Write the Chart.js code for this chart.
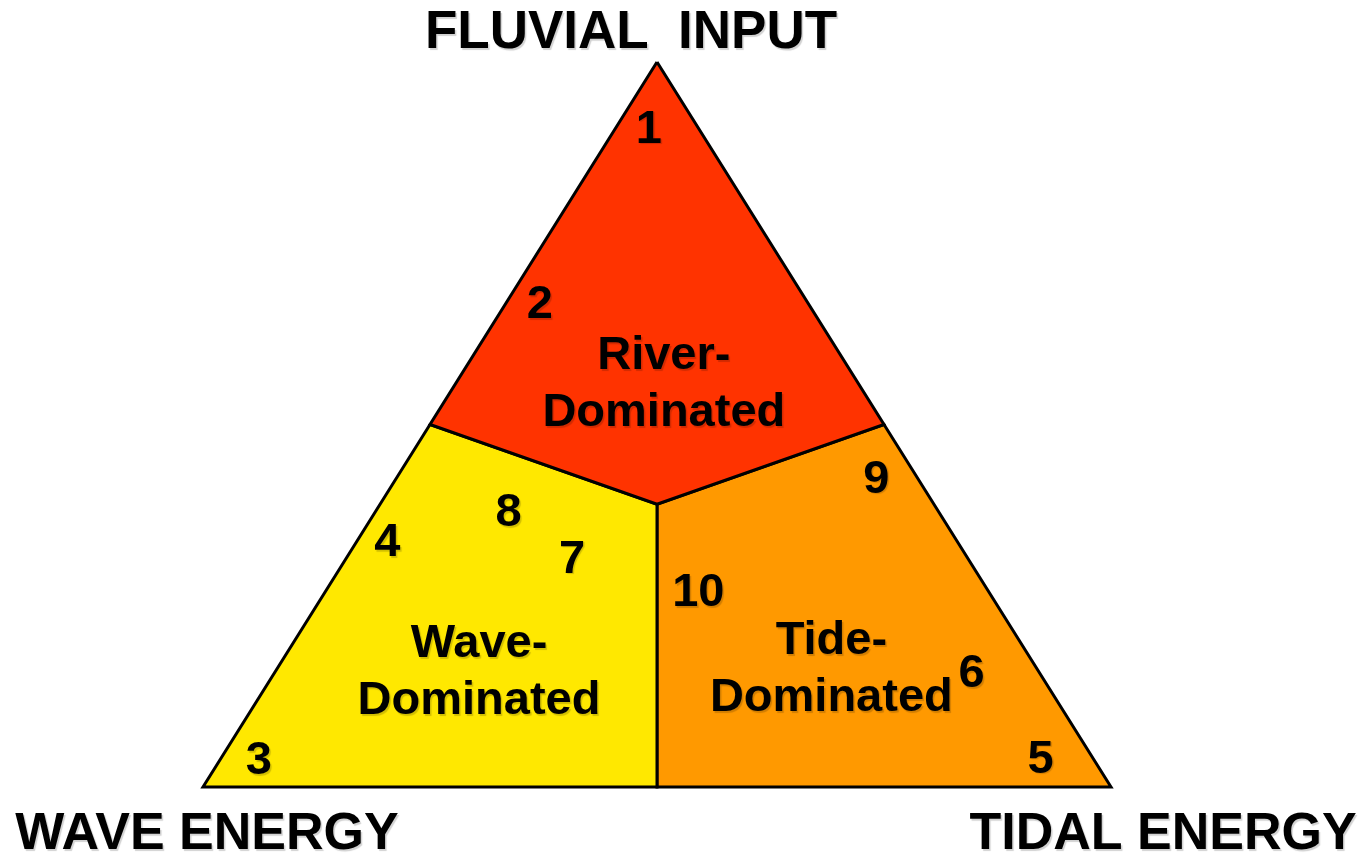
<!DOCTYPE html>
<html>
<head>
<meta charset="utf-8">
<script src="https://cdn.jsdelivr.net/npm/chart.js@4/dist/chart.umd.min.js"></script>
<style>
  html, body { margin: 0; padding: 0; background: #fff; }
  canvas { display: block; }
</style>
</head>
<body>
<canvas id="chart" width="1367" height="858"></canvas>
<script>
// ternary positions are given as [fluvial, wave, tidal] fractions
const poleNames = ['FLUVIAL  INPUT', 'WAVE ENERGY', 'TIDAL ENERGY'];
const fluvialPole = [1, 0, 0];
const wavePole = [0, 1, 0];
const tidalPole = [0, 0, 1];
const fluvialWaveSplit = [0.5, 0.5, 0];
const fluvialTidalSplit = [0.5, 0, 0.5];
const waveTidalSplit = [0, 0.5, 0.5];
const junction = [0.39, 0.305, 0.305];

const regionNames = ['River-Dominated', 'Wave-Dominated', 'Tide-Dominated'];
const regionLines = [['River-', 'Dominated'], ['Wave-', 'Dominated'], ['Tide-', 'Dominated']];
const regionColors = ['#ff3300', '#ffe800', '#ff9900'];
const regionShapes = [
  [fluvialPole, fluvialTidalSplit, junction, fluvialWaveSplit],
  [fluvialWaveSplit, junction, waveTidalSplit, wavePole],
  [junction, fluvialTidalSplit, tidalPole, waveTidalSplit]
];
const regionLabelFluvial = [0.561, 0.164, 0.168];
const regionLabelWave = [0.212, 0.614, 0.224];
const regionLabelTidal = [0.227, 0.222, 0.608];

const siteLabels = ['1', '2', '3', '4', '5', '6', '7', '8', '9', '10'];
const siteFluvial = [0.912, 0.670, 0.041, 0.342, 0.043, 0.161, 0.319, 0.383, 0.429, 0.273];
const siteWave = [0.053, 0.294, 0.918, 0.626, 0.056, 0.073, 0.434, 0.472, 0.044, 0.318];
const siteTidal = [0.035, 0.036, 0.041, 0.032, 0.901, 0.766, 0.247, 0.145, 0.527, 0.409];

function toXY([f, w, t]) {
  const sum = f + w + t;
  return { x: (t + f / 2) / sum, y: f / sum };
}

const regionDatasets = regionShapes.map((shape, i) => ({
  label: regionNames[i],
  data: [...shape, shape[0]].map(toXY),
  showLine: true,
  fill: 'shape',
  backgroundColor: regionColors[i],
  borderColor: '#000',
  borderWidth: 3,
  borderJoinStyle: 'miter',
  pointRadius: 0,
  clip: false
}));

const textLabels = {
  id: 'textLabels',
  afterDatasetsDraw(chart) {
    const { ctx, scales } = chart;
    ctx.save();
    ctx.fillStyle = '#000';
    ctx.textAlign = 'center';
    ctx.textBaseline = 'alphabetic';
    ctx.shadowColor = 'rgba(0,0,0,0.18)';
    ctx.shadowOffsetX = 1.5;
    ctx.shadowOffsetY = 1.5;
    ctx.shadowBlur = 1;

    ctx.font = 'bold 47px "Liberation Sans", Arial, sans-serif';
    chart.getDatasetMeta(3).data.forEach((pt, i) => {
      ctx.fillText(siteLabels[i], pt.x, pt.y + 17);
    });
    chart.getDatasetMeta(4).data.forEach((pt, i) => {
      const lines = regionLines[i];
      ctx.fillText(lines[0], pt.x, pt.y - 11);
      ctx.fillText(lines[1], pt.x, pt.y + 46);
    });

    // pole names sit just outside the triangle corners
    ctx.font = 'bold 53px "Liberation Sans", Arial, sans-serif';
    const px = v => scales.x.getPixelForValue(toXY(v).x);
    const py = v => scales.y.getPixelForValue(toXY(v).y);
    ctx.fillText(poleNames[0], px(fluvialPole) - 26, py(fluvialPole) - 14);
    ctx.font = 'bold 52px "Liberation Sans", Arial, sans-serif';
    ctx.fillText(poleNames[1], px(wavePole) + 4, py(wavePole) + 62);
    ctx.fillText(poleNames[2], px(tidalPole) + 52, py(tidalPole) + 62);
    ctx.restore();
  }
};

new Chart(document.getElementById('chart'), {
  type: 'scatter',
  data: {
    datasets: [
      ...regionDatasets,
      {
        label: 'Sites',
        data: siteLabels.map((_, i) => toXY([siteFluvial[i], siteWave[i], siteTidal[i]])),
        pointRadius: 0
      },
      {
        label: 'Region names',
        data: regionNames.map((_, i) => toXY([regionLabelFluvial[i], regionLabelWave[i], regionLabelTidal[i]])),
        pointRadius: 0
      }
    ]
  },
  options: {
    responsive: false,
    animation: false,
    layout: { padding: { left: 203, right: 256, top: 62, bottom: 71 } },
    scales: {
      x: { display: false, min: 0, max: 1 },
      y: { display: false, min: 0, max: 1 }
    },
    plugins: {
      legend: { display: false },
      tooltip: { enabled: false }
    }
  },
  plugins: [textLabels]
});
</script>
</body>
</html>
